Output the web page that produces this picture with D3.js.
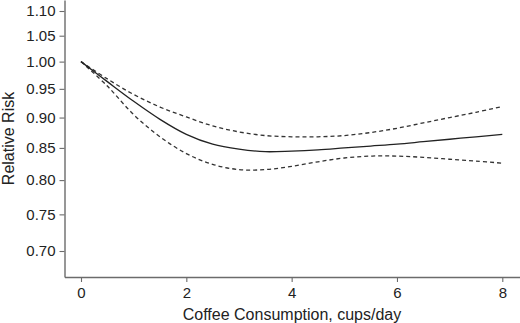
<!DOCTYPE html>
<html>
<head>
<meta charset="utf-8">
<script src="https://cdn.jsdelivr.net/npm/d3@7"></script>
<style>
  html, body { margin: 0; padding: 0; background: #fff; }
  svg { display: block; font-family: "Liberation Sans", Arial, Helvetica, sans-serif; }
</style>
</head>
<body>
<svg id="chart" width="520" height="323"></svg>
<script>
// ---- data ----
const cups = [0, 0.5, 1, 1.5, 2, 2.5, 3, 3.5, 4, 4.5, 5, 5.5, 6, 6.5, 7, 7.5, 8];
const rr =    [1.000, 0.963, 0.928, 0.897, 0.872, 0.856, 0.848, 0.844, 0.845, 0.847, 0.850, 0.853, 0.856, 0.860, 0.864, 0.868, 0.872];
const upper = [1.000, 0.968, 0.940, 0.918, 0.901, 0.886, 0.876, 0.870, 0.868, 0.868, 0.870, 0.875, 0.882, 0.891, 0.900, 0.909, 0.919];
const lower = [1.000, 0.955, 0.905, 0.868, 0.841, 0.824, 0.816, 0.816, 0.821, 0.828, 0.834, 0.837, 0.837, 0.835, 0.832, 0.829, 0.826];
const xTicks = [0, 2, 4, 6, 8];
const yTicks = [0.70, 0.75, 0.80, 0.85, 0.90, 0.95, 1.00, 1.05, 1.10];
const xTitle = "Coffee Consumption, cups/day";
const yTitle = "Relative Risk";

// ---- layout ----
const svg = d3.select("#chart");
const axisColor = "#6b6b6b";
const textColor = "#222";

const xBase = d3.scaleLinear().domain([0, 8]).range([81, 502.3]);
const x = d3.scaleLinear().domain([xBase.invert(64.5), xBase.invert(520)]).range([64.5, 520]);

const yBase = d3.scaleLog().domain([0.70, 1.10]).range([251, 11]);
const y = d3.scaleLog().domain([yBase.invert(277), yBase.invert(0)]).range([277, 0]);

// y axis
const gy = svg.append("g").attr("transform", "translate(64.5,0)")
  .call(d3.axisLeft(y).tickValues(yTicks).tickFormat(d3.format(".2f")).tickSize(5).tickSizeOuter(0).tickPadding(4));
// x axis
const gx = svg.append("g").attr("transform", "translate(0,277)")
  .call(d3.axisBottom(x).tickValues(xTicks).tickFormat(d3.format("d")).tickSize(5).tickSizeOuter(0).tickPadding(5));

[gx, gy].forEach(g => {
  g.select(".domain").attr("stroke", axisColor).attr("stroke-width", 1.4);
  g.selectAll(".tick line").attr("stroke", axisColor).attr("stroke-width", 1.1);
  g.selectAll(".tick text").attr("fill", textColor)
    .style("font-size", "15px").style("font-family", "'Liberation Sans', Arial, sans-serif");
});

// titles
svg.append("text").attr("x", 292).attr("y", 320)
  .attr("text-anchor", "middle").attr("fill", textColor)
  .style("font-size", "16px").text(xTitle);
svg.append("text").attr("transform", "translate(14,138.5) rotate(-90)")
  .attr("text-anchor", "middle").attr("fill", textColor)
  .style("font-size", "16px").text(yTitle);

// lines
const line = vals => d3.line().x((d, i) => x(cups[i])).y(d => y(d)).curve(d3.curveCatmullRom.alpha(0.5))(vals);

svg.append("path").attr("d", line(upper)).attr("fill", "none")
  .attr("stroke", "#333").attr("stroke-width", 1.3).attr("stroke-dasharray", "4,3");
svg.append("path").attr("d", line(lower)).attr("fill", "none")
  .attr("stroke", "#333").attr("stroke-width", 1.3).attr("stroke-dasharray", "4,3");
svg.append("path").attr("d", line(rr)).attr("fill", "none")
  .attr("stroke", "#222").attr("stroke-width", 1.3);
</script>
</body>
</html>
